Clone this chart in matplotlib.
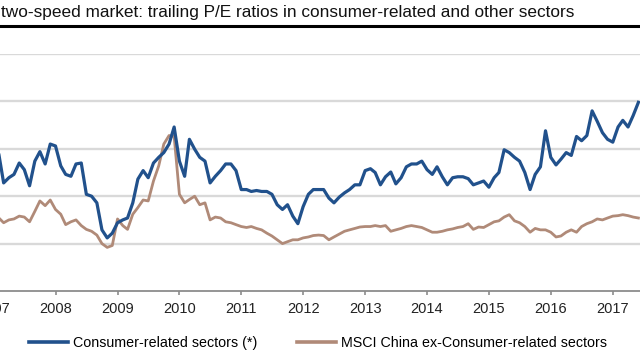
import matplotlib
matplotlib.use("Agg")
import matplotlib.pyplot as plt
import matplotlib.dates as mdates
from matplotlib.lines import Line2D
import pandas as pd

plt.rcParams['font.family'] = ['Liberation Sans', 'DejaVu Sans']

# monthly P/E readings, Jan 2007 .. Jun 2017
months = pd.date_range("2007-01-01", periods=126, freq="MS")

consumer = [
    14.6, 14.4, 11.4, 11.95, 12.3, 13.5, 12.8, 11.1, 13.7, 14.7, 13.4, 15.5,   # 2007
    15.3, 13.2, 12.3, 12.1, 13.4, 13.5, 10.2, 10.0, 9.3, 6.45, 5.6, 6.1,       # 2008
    7.2, 7.5, 7.7, 9.3, 11.8, 12.7, 11.95, 13.5, 14.1, 14.6, 15.5, 17.3,       # 2009
    13.7, 12.1, 16.0, 14.96, 14.1, 13.7, 11.4, 12.1, 12.7, 13.4, 13.4, 12.7,   # 2010
    10.7, 10.7, 10.5, 10.6, 10.5, 10.5, 10.2, 9.1, 8.6, 9.1, 7.9, 7.1,         # 2011
    8.9, 10.2, 10.7, 10.7, 10.7, 9.8, 9.3, 9.9, 10.35, 10.7, 11.2, 11.2,       # 2012
    12.7, 12.9, 12.5, 11.2, 12.05, 12.55, 11.3, 11.95, 13.1, 13.4, 13.4, 13.7, # 2013
    12.8, 12.3, 13.1, 12.05, 11.2, 11.95, 12.05, 12.05, 11.85, 11.2, 11.4, 11.6,  # 2014
    10.95, 11.95, 12.5, 14.9, 14.6, 14.1, 13.7, 12.5, 10.7, 12.3, 13.1, 16.9,  # 2015
    14.1, 13.3, 13.9, 14.6, 14.3, 16.3, 15.85, 16.4, 19.0, 17.9, 16.7, 16.0,   # 2016
    15.7, 17.3, 18.0, 17.3, 18.5, 19.9,                                        # 2017
]

msci_ex = [
    7.6, 7.7, 7.2, 7.5, 7.6, 7.9, 7.8, 7.3, 8.4, 9.5, 9.0, 9.6,
    8.6, 8.1, 7.0, 7.3, 7.5, 6.9, 6.5, 6.3, 5.9, 5.0, 4.6, 4.8,
    7.6, 6.9, 6.5, 8.1, 8.8, 9.6, 9.5, 11.6, 13.2, 15.5, 16.4, 16.3,
    10.2, 9.3, 9.65, 10.0, 9.1, 9.3, 7.5, 7.8, 7.7, 7.3, 7.2, 7.0,
    6.8, 6.7, 6.8, 6.6, 6.45, 6.1, 5.8, 5.4, 5.0, 5.2, 5.4, 5.4,
    5.6, 5.7, 5.85, 5.9, 5.85, 5.4, 5.7, 6.0, 6.3, 6.45, 6.6, 6.75,
    6.8, 6.8, 6.9, 6.8, 6.9, 6.3, 6.45, 6.6, 6.8, 6.9, 6.8, 6.7,
    6.45, 6.2, 6.2, 6.3, 6.45, 6.55, 6.7, 6.8, 7.1, 6.5, 6.75, 6.7,
    7.0, 7.3, 7.4, 7.8, 8.05, 7.4, 7.2, 6.8, 6.2, 6.6, 6.45, 6.45,
    6.2, 5.7, 5.8, 6.2, 6.45, 6.2, 6.8, 7.1, 7.3, 7.6, 7.5, 7.7,
    7.9, 7.95, 8.05, 7.95, 7.8, 7.7,
]

labels = ["Consumer-related sectors (*)", "MSCI China ex-Consumer-related sectors"]
title = "two-speed market: trailing P/E ratios in consumer-related and other sectors"

BLUE = "#21518C"
BROWN = "#B08A78"
W, H = 640, 360

fig = plt.figure(figsize=(6.4, 3.6), dpi=100)

# the picture is a crop: 2008 tick sits at x=55.5px, 2017 tick at x=612.8px
d08 = mdates.date2num(pd.Timestamp("2008-01-01"))
d17 = mdates.date2num(pd.Timestamp("2017-01-01"))
per_px = (d17 - d08) / (612.8 - 55.5)
px_left, px_right = -20, 641
ax_top, ax_bottom = 54, 291

ax = fig.add_axes([px_left / W, (H - ax_bottom) / H,
                   (px_right - px_left) / W, (ax_bottom - ax_top) / H])
ax.set_xlim(d08 + (px_left - 55.5) * per_px, d08 + (px_right - 55.5) * per_px)
ax.set_ylim(0, 25)

ax.plot(months, consumer, color=BLUE, lw=2.3, label=labels[0], solid_joinstyle='round', zorder=3)
ax.plot(months, msci_ex, color=BROWN, lw=2.0, label=labels[1], solid_joinstyle='round', zorder=2)

ax.set_yticks([5, 10, 15, 20, 25])
ax.yaxis.grid(True, color="#D9D9D9", lw=1.7)
ax.set_axisbelow(True)
ax.tick_params(axis='y', length=0, labelleft=False)

ax.xaxis.set_major_locator(mdates.YearLocator())
ax.xaxis.set_major_formatter(mdates.DateFormatter("%Y"))
ax.tick_params(axis='x', direction='out', length=3, width=1.2, color="#8C8C8C",
               labelsize=10.5, labelcolor="#222222", pad=5)

for side in ["top", "left", "right"]:
    ax.spines[side].set_visible(False)
ax.spines["bottom"].set_color("#8C8C8C")
ax.spines["bottom"].set_linewidth(1.3)

fig.text(1 / W, 1 - 13 / H, title, fontsize=12.4, color="#111111", va="center", ha="left")
fig.add_artist(Line2D([0, 1], [1 - 26 / H, 1 - 26 / H], color="black", lw=2.2,
                      transform=fig.transFigure))

handles = [Line2D([], [], color=BLUE, lw=2.6), Line2D([], [], color=BROWN, lw=2.6)]
fig.legend(handles, labels, loc="center left", bbox_to_anchor=(29 / W, 1 - 343 / H),
           ncol=2, frameon=False, fontsize=10.3, borderpad=0, borderaxespad=0,
           handlelength=2.75, handletextpad=0.35, columnspacing=2.75)

fig.savefig("out.png", dpi=100)
